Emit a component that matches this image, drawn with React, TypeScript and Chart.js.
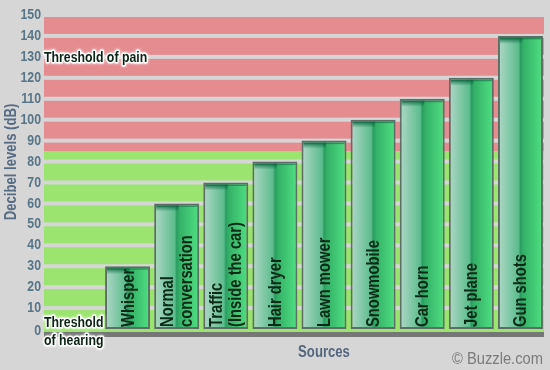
import React, { useEffect, useRef } from 'react';
import { Chart, registerables } from 'chart.js';

Chart.register(...registerables);

// ---- data ----
const SOURCES: string[][] = [
  ['Whisper'],
  ['Normal', 'conversation'],
  ['Traffic', '(Inside the car)'],
  ['Hair dryer'],
  ['Lawn mower'],
  ['Snowmobile'],
  ['Car horn'],
  ['Jet plane'],
  ['Gun shots'],
];
const DECIBELS: number[] = [30, 60, 70, 80, 90, 100, 110, 120, 140];
const Y_MIN = 0;
const Y_MAX = 150;
const Y_STEP = 10;
const PAIN_FROM = 85;
const PAIN_LABEL = 'Threshold of pain';
const PAIN_LABEL_AT = 130;
const HEARING_LABEL: string[] = ['Threshold', 'of hearing'];
const Y_TITLE = 'Decibel levels (dB)';
const X_TITLE = 'Sources';
const CREDIT = '\u00A9 Buzzle.com';

// ---- style ----
const SANS = "'Liberation Sans', Arial, sans-serif";
const SQUEEZE = 0.82;
const BG = '#d6d6d6';
const BAR_PCT = 0.916;

type TextOpts = {
  size: number;
  bold?: boolean;
  color: string;
  align?: CanvasTextAlign;
  rotate?: number;
  sx?: number;
  glow?: boolean;
};

function drawText(ctx: CanvasRenderingContext2D, t: string, x: number, y: number, o: TextOpts) {
  ctx.save();
  ctx.translate(x, y);
  if (o.rotate) ctx.rotate(o.rotate);
  ctx.scale(o.sx ?? SQUEEZE, 1);
  ctx.font = `${o.bold === false ? '' : 'bold '}${o.size}px ${SANS}`;
  ctx.textAlign = o.align ?? 'left';
  ctx.textBaseline = 'middle';
  if (o.glow) {
    ctx.save();
    ctx.shadowColor = 'rgba(255,255,255,0.95)';
    ctx.shadowBlur = 3;
    ctx.strokeStyle = '#ffffff';
    ctx.lineWidth = 3.2;
    ctx.lineJoin = 'round';
    ctx.strokeText(t, 0, 0);
    ctx.restore();
  }
  ctx.fillStyle = o.color;
  ctx.fillText(t, 0, 0);
  ctx.restore();
}

const backdrop = {
  id: 'backdrop',
  beforeDraw(chart: any) {
    const { ctx, chartArea, scales } = chart;
    const y = scales.y;
    const left = chartArea.left - 59;
    const right = chartArea.right - 1;
    ctx.save();
    ctx.fillStyle = BG;
    ctx.fillRect(0, 0, chart.width, chart.height);
    const yTop = y.getPixelForValue(Y_MAX);
    const yPain = y.getPixelForValue(PAIN_FROM);
    const y0 = y.getPixelForValue(Y_MIN);
    ctx.fillStyle = '#e58c91';
    ctx.fillRect(left, yTop, right - left, yPain - yTop);
    ctx.fillStyle = '#9ae46f';
    ctx.fillRect(left, yPain, right - left, y0 + 3 - yPain);
    ctx.fillStyle = BG;
    for (let v = Y_MIN + Y_STEP; v <= Y_MAX; v += Y_STEP) {
      const p = y.getPixelForValue(v);
      ctx.fillRect(left, p - 2, right - left, 4);
    }
    ctx.fillStyle = '#767676';
    ctx.fillRect(left, y0 + 3, right - left, 5);
    y.ticks.forEach((t: any) => {
      drawText(ctx, String(t.value), left - 3, y.getPixelForValue(t.value) + (t.value === 0 ? 2 : 0), {
        size: 15,
        color: '#587587',
        align: 'right',
      });
    });
    ctx.restore();
  },
  afterDatasetsDraw(chart: any) {
    const { ctx, scales } = chart;
    const y = scales.y;
    const meta = chart.getDatasetMeta(0);
    ctx.save();
    meta.data.forEach((el: any, i: number) => {
      const w = el.width;
      const g = ctx.createLinearGradient(0, el.y + 2, 0, el.y + 8);
      g.addColorStop(0, 'rgba(0,95,55,0.8)');
      g.addColorStop(1, 'rgba(0,95,55,0)');
      ctx.fillStyle = g;
      ctx.fillRect(el.x - w / 2 + 2, el.y + 2, (w - 4) * 0.55, 6);
      ctx.fillStyle = 'rgba(20,110,70,0.6)';
      ctx.fillRect(el.x - w / 2 + 2, el.y + 2, w - 4, 1.5);
      const lines = SOURCES[i];
      const base = y.getPixelForValue(Y_MIN) - 2;
      const lh = 19.5;
      lines.forEach((t, j) => {
        const dx = (j - (lines.length - 1) / 2) * lh + 1;
        drawText(ctx, t, el.x + dx, base, {
          size: 18,
          color: '#0c2916',
          rotate: -Math.PI / 2,
        });
      });
    });
    ctx.restore();
  },
  afterDraw(chart: any) {
    const { ctx, chartArea, scales } = chart;
    const y = scales.y;
    const left = chartArea.left - 59;
    const y0 = y.getPixelForValue(Y_MIN);
    const dark = '#0c2414';
    drawText(ctx, PAIN_LABEL, left, y.getPixelForValue(PAIN_LABEL_AT) + 1, { size: 15, color: dark, glow: true });
    drawText(ctx, HEARING_LABEL[0], left, y0 - 6, { size: 15, color: dark, glow: true });
    drawText(ctx, HEARING_LABEL[1], left, y0 + 12, { size: 15, color: dark, glow: true });
    drawText(ctx, Y_TITLE, 12, (y.getPixelForValue(Y_MIN) + y.getPixelForValue(Y_MAX)) / 2 - 10, {
      size: 16,
      color: '#566b84',
      align: 'center',
      rotate: -Math.PI / 2,
    });
    drawText(ctx, X_TITLE, (chartArea.left + chartArea.right) / 2, 353, {
      size: 16,
      color: '#55667f',
      align: 'center',
    });
    drawText(ctx, CREDIT, chartArea.right - 2, 360, {
      size: 16,
      bold: false,
      color: '#7b7b7b',
      align: 'right',
      sx: 0.92,
    });
  },
};

export default function App() {
  const ref = useRef<HTMLCanvasElement | null>(null);
  useEffect(() => {
    if (!ref.current) return;
    const chart = new Chart(ref.current, {
      type: 'bar',
      data: {
        labels: SOURCES,
        datasets: [
          {
            data: DECIBELS,
            barPercentage: BAR_PCT,
            categoryPercentage: 1,
            borderColor: '#5e6d66',
            borderWidth: 2,
            borderSkipped: false,
            backgroundColor: (c: any) => {
              const { ctx, chartArea, scales } = c.chart;
              if (!chartArea || !scales.x || c.type !== 'data') return '#3cb371';
              const xs = scales.x;
              const cx = xs.getPixelForValue(c.dataIndex);
              const hw = ((xs.width / SOURCES.length) * BAR_PCT) / 2;
              const g = ctx.createLinearGradient(cx - hw, 0, cx + hw, 0);
              g.addColorStop(0, '#afd8c7');
              g.addColorStop(0.46, '#5cbc8d');
              g.addColorStop(0.5, '#2a9d60');
              g.addColorStop(0.57, '#34b168');
              g.addColorStop(1, '#50e081');
              return g;
            },
          },
        ],
      },
      options: {
        animation: false,
        responsive: false,
        devicePixelRatio: 1,
        layout: { padding: { top: 15, right: 5, bottom: 41, left: 103 } },
        plugins: { legend: { display: false }, tooltip: { enabled: false } },
        scales: {
          x: { display: false },
          y: {
            display: false,
            min: Y_MIN,
            max: Y_MAX,
            ticks: { stepSize: Y_STEP },
          },
        },
      },
      plugins: [backdrop],
    });
    return () => chart.destroy();
  }, []);
  return (
    <div style={{ position: 'fixed', left: 0, top: 0, width: 550, height: 370, background: BG }}>
      <canvas ref={ref} width={550} height={370} />
    </div>
  );
}
